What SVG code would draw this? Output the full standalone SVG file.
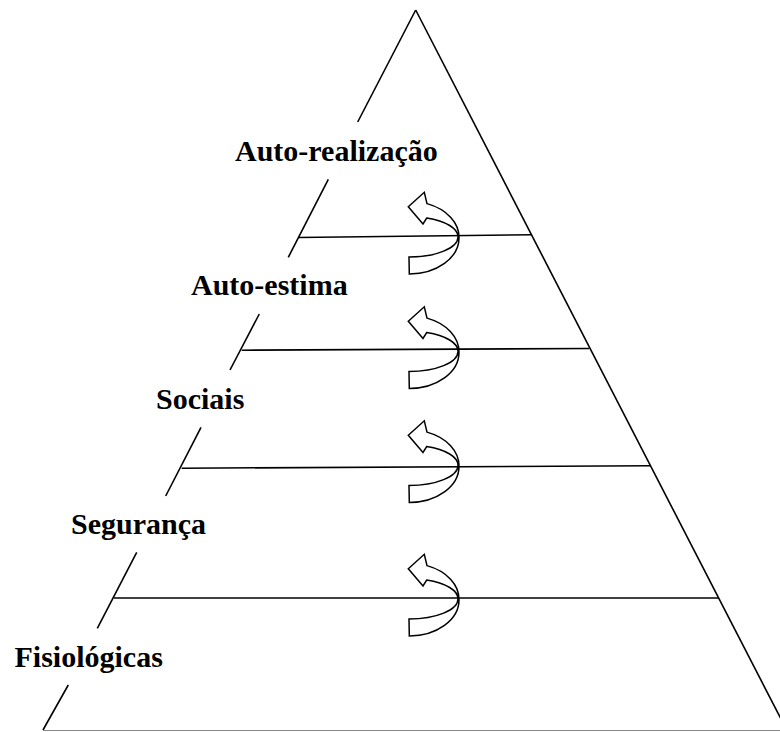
<svg xmlns="http://www.w3.org/2000/svg" xmlns:xlink="http://www.w3.org/1999/xlink" width="780" height="732" viewBox="0 0 780 732">
  <style>
    .edge { stroke: #000; stroke-width: 1.6; fill: none; stroke-linecap: butt; }
    .lbl { font-family: "Liberation Serif", "Times New Roman", serif; font-weight: bold; font-size: 30px; fill: #000; }
    .arrow { fill: #fff; stroke: #000; stroke-width: 1.5; stroke-linejoin: miter; }
  </style>
  <defs>
    <path id="curvedArrow" class="arrow" d="M409,257 A49,20 0 0 0 458,237 A49,20 0 0 0 426.7,218 L423,224 L408.3,206.7 L424.3,192.3 L427,203.6 A50,36 0 0 1 459,238 A50,36 0 0 1 409.3,274 Z"/>
  </defs>
  <rect width="780" height="732" fill="#fff"/>

  <g id="pyramid">
    <line class="edge" x1="415.7" y1="10" x2="782" y2="721"/>
    <line class="edge" x1="415.7" y1="10" x2="357.7" y2="122"/>
    <line class="edge" x1="328.3" y1="179.3" x2="288.3" y2="257.3"/>
    <line class="edge" x1="259.3" y1="314" x2="230" y2="370"/>
    <line class="edge" x1="201" y1="427.3" x2="165.7" y2="496"/>
    <line class="edge" x1="136.7" y1="552.3" x2="97.3" y2="628.3"/>
    <line class="edge" x1="68.3" y1="685" x2="43" y2="730"/>
    <line x1="43" y1="730.5" x2="780" y2="730.5" stroke="#888" stroke-width="1.2"/>
  </g>

  <g id="connectors">
    <line class="edge" x1="298" y1="237.5" x2="531.5" y2="234.8"/>
    <line class="edge" x1="241.7" y1="350.2" x2="589" y2="348.5"/>
    <line class="edge" x1="181.7" y1="468.2" x2="651" y2="465.8"/>
    <line class="edge" x1="114" y1="598" x2="719" y2="598"/>
  </g>

  <g id="arrow-1"><use xlink:href="#curvedArrow" href="#curvedArrow"/></g>
  <g id="arrow-2"><use xlink:href="#curvedArrow" href="#curvedArrow" transform="translate(0,114.5)"/></g>
  <g id="arrow-3"><use xlink:href="#curvedArrow" href="#curvedArrow" transform="translate(0,228.5)"/></g>
  <g id="arrow-4"><use xlink:href="#curvedArrow" href="#curvedArrow" transform="translate(0,362)"/></g>

  <g id="auto-realizacao"><text class="lbl" x="235" y="161">Auto-realização</text></g>
  <g id="auto-estima"><text class="lbl" x="191" y="295">Auto-estima</text></g>
  <g id="sociais"><text class="lbl" x="156" y="409">Sociais</text></g>
  <g id="seguranca"><text class="lbl" x="71" y="534">Segurança</text></g>
  <g id="fisiologicas"><text class="lbl" x="14.5" y="667">Fisiológicas</text></g>
</svg>
